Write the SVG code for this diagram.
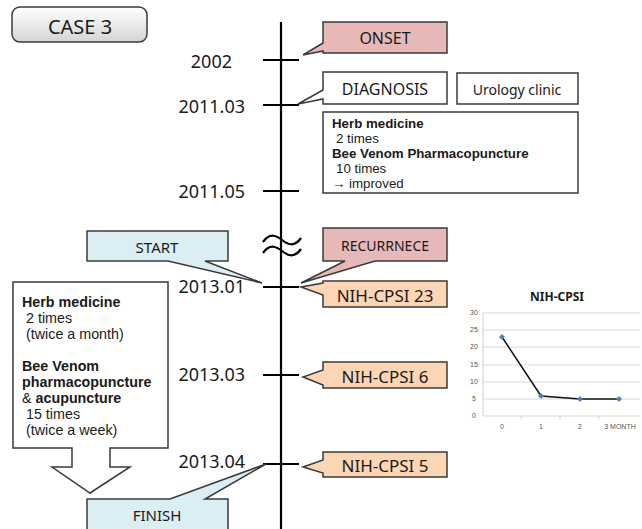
<svg xmlns="http://www.w3.org/2000/svg" width="642" height="529" viewBox="0 0 642 529">
<defs>
<linearGradient id="g" x1="0" y1="0" x2="0" y2="1"><stop offset="0" stop-color="#ffffff"/><stop offset="1" stop-color="#d4d4d4"/></linearGradient>
<style>
text{font-family:"Noto Sans","Liberation Sans",sans-serif;fill:#1a1a1a}
.c{text-anchor:middle;dominant-baseline:central}
.yr{font-size:18px;text-anchor:end;dominant-baseline:central}
.box{stroke:#3a3a3a;stroke-width:1.5}
.pink{fill:#e6b9b8}.blue{fill:#dbeef4}.peach{fill:#fcd5b5}.white{fill:#fff}
.tl{stroke:#000;stroke-width:2.2;fill:none}
.b{font-weight:bold}
.sm{font-size:13.3px;font-family:"Liberation Sans",sans-serif}
.lb{font-size:14.3px;font-family:"Liberation Sans",sans-serif}
.ax{font-size:7px;fill:#555;text-anchor:middle;font-family:"Liberation Sans Narrow","Liberation Sans",sans-serif}
.grid{stroke:#d9d9d9;stroke-width:1}
</style>
</defs>
<g id="case3">
<rect x="12" y="7" width="135" height="35" rx="8" fill="url(#g)" class="box"/>
<text x="80" y="26" class="c" font-size="20">CASE 3</text>
</g>
<g id="connectors">
<path class="tl" d="M281,22 V529"/>
<path class="tl" d="M263,60 H299 M263,105 H299 M263,191 H299 M263,287 H299 M263,375 H299 M263,464 H299"/>
<path d="M263,242 C270,232 277,236 282,240 C287,244 294,248 301,238 M263,253 C270,243 277,247 282,251 C287,255 294,259 301,249" fill="none" stroke="#000" stroke-width="2.2"/>
</g>
<g id="years">
<text x="232" y="61" class="yr">2002</text>
<text x="245" y="106" class="yr">2011.03</text>
<text x="245" y="191" class="yr">2011.05</text>
<text x="245" y="286" class="yr">2013.01</text>
<text x="245" y="374" class="yr">2013.03</text>
<text x="245" y="461" class="yr">2013.04</text>
</g>
<g id="onset">
<path class="box pink" d="M323,22 H447 V53 H323 V51 L303,55 L323,43 Z"/>
<text x="385" y="38" class="c" font-size="16">ONSET</text>
</g>
<g id="diagnosis">
<path class="box white" d="M323,72 H447 V104 H323 V99 L298,104 L323,90 Z"/>
<text x="385" y="89" class="c" font-size="16">DIAGNOSIS</text>
</g>
<g id="urology">
<rect x="457" y="73" width="121" height="31" class="box white"/>
<text x="517" y="89" class="c" font-size="14">Urology clinic</text>
</g>
<g id="treatment1">
<rect x="323" y="112" width="255" height="81" class="box white"/>
<text x="332" y="128" class="sm b">Herb medicine</text>
<text x="336" y="143" class="sm">2 times</text>
<text x="332" y="158" class="sm b">Bee Venom Pharmacopuncture</text>
<text x="336" y="173" class="sm">10 times</text>
<text x="332" y="188" class="sm">→ improved</text>
</g>
<g id="start">
<path class="box blue" d="M87,231 H228 V261 H205 L262,283 L168,261 H87 Z"/>
<text x="157" y="247" class="c" font-size="15">START</text>
</g>
<g id="recurrence">
<path class="box pink" d="M323,228 H447 V261 H375 L301,283 L345,261 H323 Z"/>
<text x="385" y="245" class="c" font-size="14">RECURRNECE</text>
</g>
<g id="nih23">
<path class="box peach" d="M323,281 H447 V307 H323 V295 L301,287 L323,283 Z"/>
<text x="385" y="295" class="c" font-size="17">NIH-CPSI 23</text>
</g>
<g id="nih6">
<path class="box peach" d="M323,362 H447 V388 H323 V385 L303,377 L323,370 Z"/>
<text x="385" y="376" class="c" font-size="17">NIH-CPSI 6</text>
</g>
<g id="nih5">
<path class="box peach" d="M323,452 H447 V477 H323 V473 L303,467 L323,460 Z"/>
<text x="385" y="465" class="c" font-size="17">NIH-CPSI 5</text>
</g>
<g id="treatment2">
<path class="box white" d="M13,282 H168 V448 H110 V467 H130 L90,493 L52,467 H72 V448 H13 Z"/>
<text x="22" y="307" class="lb b">Herb medicine</text>
<text x="26" y="323" class="lb">2 times</text>
<text x="26" y="339" class="lb">(twice a month)</text>
<text x="22" y="371" class="lb b">Bee Venom</text>
<text x="22" y="387" class="lb b">pharmacopuncture</text>
<text x="22" y="403" class="lb">&amp; <tspan class="b">acupuncture</tspan></text>
<text x="26" y="419" class="lb">15 times</text>
<text x="26" y="435" class="lb">(twice a week)</text>
</g>
<g id="finish">
<path class="box blue" d="M87,499 H170 L266,464 L205,499 H228 V535 H87 Z"/>
<text x="157" y="515" class="c" font-size="15">FINISH</text>
</g>
<g id="chart">
<text x="557" y="296" class="c" font-size="12" font-weight="bold" font-family="Liberation Sans Narrow,Liberation Sans,sans-serif">NIH-CPSI</text>
<path class="grid" d="M483,313 H640 M483,330 H640 M483,347 H640 M483,365 H640 M483,382 H640 M483,399 H640 M483,416 H640"/>
<path d="M483,313 V416 M521,416 v3 M560,416 v3 M599,416 v3" stroke="#d0d0d0" fill="none"/>
<text x="474" y="315" class="ax">30</text>
<text x="474" y="332" class="ax">25</text>
<text x="474" y="349" class="ax">20</text>
<text x="474" y="367" class="ax">15</text>
<text x="474" y="384" class="ax">10</text>
<text x="474" y="401" class="ax">5</text>
<text x="474" y="418" class="ax">0</text>
<text x="502" y="429" class="ax">0</text>
<text x="541" y="429" class="ax">1</text>
<text x="580" y="429" class="ax">2</text>
<text x="620" y="429" class="ax">3 MONTH</text>
<polyline points="502,337 541,396 580,399 619,399" fill="none" stroke="#111" stroke-width="1.5"/>
<g fill="#4f81bd">
<path d="M502,334 l3,3 l-3,3 l-3,-3 Z"/>
<path d="M541,393 l3,3 l-3,3 l-3,-3 Z"/>
<path d="M580,396 l3,3 l-3,3 l-3,-3 Z"/>
<path d="M619,396 l3,3 l-3,3 l-3,-3 Z"/>
</g>
</g>
</svg>
